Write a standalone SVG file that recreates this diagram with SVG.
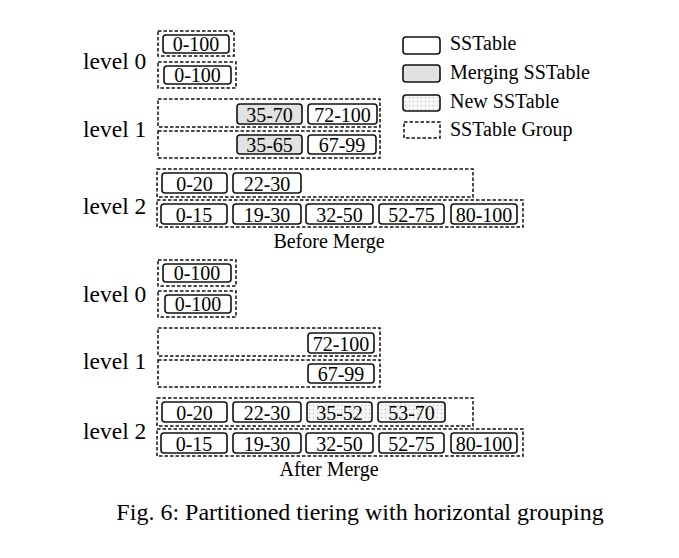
<svg xmlns="http://www.w3.org/2000/svg" width="679" height="558" viewBox="0 0 679 558">
<style>
.grp{fill:none;stroke:#111;stroke-width:1.5;stroke-dasharray:3.5 2}
.ss{fill:#fff;stroke:#111;stroke-width:1.6}
.mg{fill:#e2e2e2;stroke:#111;stroke-width:1.6}
.nw{fill:url(#dots);stroke:#111;stroke-width:1.6}
.t{font-family:"Liberation Serif","Times New Roman",serif;font-size:20px;fill:#000;text-anchor:middle}
.lv{font-family:"Liberation Serif","Times New Roman",serif;font-size:23.5px;fill:#000}
.lg{font-family:"Liberation Serif","Times New Roman",serif;font-size:20px;fill:#000}
.cap{font-family:"Liberation Serif","Times New Roman",serif;font-size:24px;fill:#000;text-anchor:middle}
</style>
<defs>
<pattern id="dots" width="4" height="4" patternUnits="userSpaceOnUse">
<rect width="4" height="4" fill="#f6f6f6"/>
<rect x="1" y="1" width="1" height="1" fill="#b0b0b0"/>
</pattern>
</defs>
<rect width="679" height="558" fill="#fff"/>

<!-- Legend -->
<g id="legend">
<rect class="ss" x="403" y="37" width="37" height="17" rx="3"/>
<text class="lg" x="450" y="50">SSTable</text>
<rect class="mg" x="403" y="65" width="37" height="17" rx="3"/>
<text class="lg" x="450" y="79">Merging SSTable</text>
<rect class="nw" x="403" y="95" width="37" height="16" rx="3"/>
<text class="lg" x="450" y="108">New SSTable</text>
<rect class="grp" x="404" y="122" width="36" height="16"/>
<text class="lg" x="450" y="136">SSTable Group</text>
</g>

<!-- Before merge -->
<g id="before">
<text class="lv" x="83" y="69">level 0</text>
<text class="lv" x="83" y="137">level 1</text>
<text class="lv" x="83" y="214">level 2</text>

<g id="b-l0-g1">
<rect class="grp" x="158" y="31" width="76" height="25"/>
<rect class="ss" x="163" y="35" width="66" height="18" rx="3"/>
<text class="t" x="196" y="50.5">0-100</text>
</g>
<g id="b-l0-g2">
<rect class="grp" x="158" y="62" width="78" height="26"/>
<rect class="ss" x="164" y="66" width="67" height="18" rx="3"/>
<text class="t" x="197.5" y="81.5">0-100</text>
</g>
<g id="b-l1-g1">
<rect class="grp" x="158" y="99" width="222" height="28"/>
<rect class="mg" x="237" y="104" width="65" height="20" rx="3"/>
<text class="t" x="269.5" y="121.5">35-70</text>
<rect class="ss" x="308" y="104" width="69" height="20" rx="3"/>
<text class="t" x="342.5" y="121.5">72-100</text>
</g>
<g id="b-l1-g2">
<rect class="grp" x="158" y="131" width="222" height="27"/>
<rect class="mg" x="237" y="135" width="65" height="19" rx="3"/>
<text class="t" x="269.5" y="152">35-65</text>
<rect class="ss" x="308" y="135" width="68" height="19" rx="3"/>
<text class="t" x="342" y="152">67-99</text>
</g>
<g id="b-l2-g1">
<rect class="grp" x="157" y="169" width="316" height="28"/>
<rect class="ss" x="162" y="173" width="65" height="20" rx="3"/>
<text class="t" x="194.5" y="190.5">0-20</text>
<rect class="ss" x="233" y="173" width="68" height="20" rx="3"/>
<text class="t" x="267" y="190.5">22-30</text>
</g>
<g id="b-l2-g2">
<rect class="grp" x="157" y="200" width="366" height="27"/>
<rect class="ss" x="161" y="204" width="66" height="20" rx="3"/>
<text class="t" x="194" y="221.5">0-15</text>
<rect class="ss" x="233" y="204" width="68" height="20" rx="3"/>
<text class="t" x="267" y="221.5">19-30</text>
<rect class="ss" x="306" y="204" width="67" height="20" rx="3"/>
<text class="t" x="339.5" y="221.5">32-50</text>
<rect class="ss" x="379" y="204" width="65" height="20" rx="3"/>
<text class="t" x="411.5" y="221.5">52-75</text>
<rect class="ss" x="451" y="204" width="66" height="20" rx="3"/>
<text class="t" x="484" y="221.5">80-100</text>
</g>
<text class="t" x="329" y="248">Before Merge</text>
</g>

<!-- After merge -->
<g id="after">
<text class="lv" x="83" y="302">level 0</text>
<text class="lv" x="83" y="369">level 1</text>
<text class="lv" x="83" y="439">level 2</text>

<g id="a-l0-g1">
<rect class="grp" x="158" y="260" width="78" height="26"/>
<rect class="ss" x="163" y="264" width="68" height="18" rx="3"/>
<text class="t" x="197" y="279.5">0-100</text>
</g>
<g id="a-l0-g2">
<rect class="grp" x="158" y="291" width="78" height="26"/>
<rect class="ss" x="165" y="295" width="66" height="18" rx="3"/>
<text class="t" x="198" y="310.5">0-100</text>
</g>
<g id="a-l1-g1">
<rect class="grp" x="158" y="328" width="222" height="28"/>
<rect class="ss" x="308" y="333" width="66" height="20" rx="3"/>
<text class="t" x="341" y="350.5">72-100</text>
</g>
<g id="a-l1-g2">
<rect class="grp" x="158" y="360" width="222" height="27"/>
<rect class="ss" x="308" y="364" width="66" height="19" rx="3"/>
<text class="t" x="341" y="381">67-99</text>
</g>
<g id="a-l2-g1">
<rect class="grp" x="157" y="398" width="316" height="28"/>
<rect class="ss" x="162" y="402" width="65" height="20" rx="3"/>
<text class="t" x="194.5" y="419.5">0-20</text>
<rect class="ss" x="233" y="402" width="68" height="20" rx="3"/>
<text class="t" x="267" y="419.5">22-30</text>
<rect class="nw" x="307" y="402" width="65" height="20" rx="3"/>
<text class="t" x="339.5" y="419.5">35-52</text>
<rect class="nw" x="378" y="402" width="67" height="20" rx="3"/>
<text class="t" x="411.5" y="419.5">53-70</text>
</g>
<g id="a-l2-g2">
<rect class="grp" x="157" y="429" width="366" height="27"/>
<rect class="ss" x="161" y="433" width="66" height="20" rx="3"/>
<text class="t" x="194" y="450.5">0-15</text>
<rect class="ss" x="233" y="433" width="68" height="20" rx="3"/>
<text class="t" x="267" y="450.5">19-30</text>
<rect class="ss" x="306" y="433" width="67" height="20" rx="3"/>
<text class="t" x="339.5" y="450.5">32-50</text>
<rect class="ss" x="379" y="433" width="65" height="20" rx="3"/>
<text class="t" x="411.5" y="450.5">52-75</text>
<rect class="ss" x="451" y="433" width="66" height="20" rx="3"/>
<text class="t" x="484" y="450.5">80-100</text>
</g>
<text class="t" x="329" y="476">After Merge</text>
</g>

<text class="cap" x="360" y="520">Fig. 6: Partitioned tiering with horizontal grouping</text>
</svg>
